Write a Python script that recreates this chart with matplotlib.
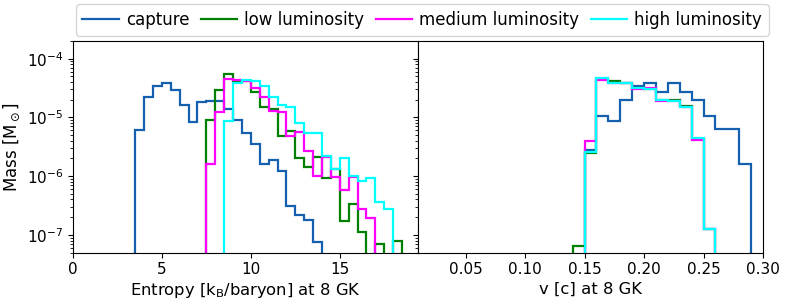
import numpy as np
import matplotlib
matplotlib.use("Agg")
import matplotlib.pyplot as plt
from matplotlib.lines import Line2D

# ---------------- data ----------------
series_names = ["capture", "low luminosity", "medium luminosity", "high luminosity"]
series_colors = ["#1560ae", "green", "magenta", "cyan"]

# entropy bins (kB/baryon), width 0.5, from 3.5 to 19.0
entropy_edges = np.arange(3.5, 19.0 + 1e-9, 0.5)
entropy_capture = [6.2e-6, 2.2e-5, 3.4e-5, 3.8e-5, 2.9e-5, 1.6e-5, 8.2e-6, 1.84e-5,
                   1.9e-5, 1.9e-5, 1.38e-5, 9.2e-6, 5.4e-6, 3.5e-6, 1.58e-6, 1.85e-6,
                   1.22e-6, 3.1e-7, 2.15e-7, 1.76e-7, 7.6e-8, 0, 0, 0,
                   0, 0, 0, 0, 0, 0, 0]
entropy_low = [0, 0, 0, 0, 0, 0, 0, 0,
               9.2e-6, 2.94e-5, 5.5e-5, 4.15e-5, 4.1e-5, 2.72e-5, 1.48e-5, 1.4e-5,
               4.8e-6, 5.9e-6, 2.0e-6, 1.42e-6, 2.15e-6, 9.4e-7, 1.33e-6, 1.72e-7,
               3.3e-7, 1.12e-7, 0, 7.1e-8, 0, 7.9e-8, 0]
entropy_medium = [0, 0, 0, 0, 0, 0, 0, 0,
                  1.62e-6, 1.22e-5, 4.5e-5, 4.4e-5, 4.15e-5, 3.2e-5, 2.2e-5, 1.3e-5,
                  1.22e-5, 4.9e-6, 5.6e-6, 2.7e-6, 1.0e-6, 2.1e-6, 9.6e-7, 5.9e-7,
                  9.6e-7, 2.7e-7, 1.9e-7, 0, 0, 0, 0]
entropy_high = [0, 0, 0, 0, 0, 0, 0, 0,
                0, 0, 8.8e-6, 3.9e-5, 4.3e-5, 4.15e-5, 3.4e-5, 2.2e-5,
                1.6e-5, 1.48e-5, 7.9e-6, 5.4e-6, 5.4e-6, 2.24e-6, 1.33e-6, 2.04e-6,
                1.0e-6, 8.2e-7, 9.2e-7, 3.6e-7, 2.7e-7, 0, 0]

# velocity bins (c), width 0.01, from 0.14 to 0.30
velocity_edges = np.arange(0.14, 0.30 + 1e-9, 0.01)
velocity_capture = [0, 2.8e-6, 1.07e-5, 8.7e-6, 2.0e-5, 3.4e-5, 3.85e-5, 2.75e-5,
                    3.8e-5, 2.75e-5, 2.0e-5, 1.04e-5, 6.4e-6, 6.4e-6, 1.6e-6, 0]
velocity_low = [6.5e-8, 2.45e-6, 4.5e-5, 4.15e-5, 3.8e-5, 3.2e-5, 3.1e-5, 2.0e-5,
                1.97e-5, 1.56e-5, 4.3e-6, 1.26e-7, 0, 0, 0, 0]
velocity_medium = [0, 3.9e-6, 4.4e-5, 3.9e-5, 3.8e-5, 3.05e-5, 3.2e-5, 1.87e-5,
                   1.9e-5, 1.5e-5, 4.2e-6, 1.26e-7, 0, 0, 0, 0]
velocity_high = [0, 2.55e-6, 4.6e-5, 3.9e-5, 3.8e-5, 3.2e-5, 3.1e-5, 2.0e-5,
                 1.93e-5, 1.52e-5, 4.4e-6, 1.26e-7, 0, 0, 0, 0]

entropy_series = [entropy_capture, entropy_low, entropy_medium, entropy_high]
velocity_series = [velocity_capture, velocity_low, velocity_medium, velocity_high]

# ---------------- figure ----------------
plt.rcParams["font.family"] = ["DejaVu Sans"]

fig = plt.figure(figsize=(7.89, 3.05), dpi=100)
L, R, B, T = 73 / 789, 763 / 789, 1 - 252.5 / 305, 1 - 41 / 305
W = (R - L) / 2
ax1 = fig.add_axes([L, B, W, T - B])
ax2 = fig.add_axes([L + W, B, W, T - B], sharey=ax1)

for vals, name, col in zip(entropy_series, series_names, series_colors):
    ax1.hist(entropy_edges[:-1], bins=entropy_edges, weights=vals,
             histtype="step", color=col, linewidth=1.6, label=name)
for vals, name, col in zip(velocity_series, series_names, series_colors):
    ax2.hist(velocity_edges[:-1], bins=velocity_edges, weights=vals,
             histtype="step", color=col, linewidth=1.6, label=name)

ax1.set_yscale("log")
ax1.set_ylim(5e-8, 2e-4)
ax1.set_xlim(0, 19.4)
ax2.set_xlim(0.01, 0.30)
ax1.set_xticks([0, 5, 10, 15])
ax2.set_xticks([0.05, 0.10, 0.15, 0.20, 0.25, 0.30])
ax2.tick_params(labelleft=False)
for ax in (ax1, ax2):
    ax.tick_params(labelsize=11)

ax1.set_xlabel(r"Entropy [k$_\mathrm{B}$/baryon] at 8 GK", fontsize=11.8, labelpad=3)
ax2.set_xlabel("v [c] at 8 GK", fontsize=11.8, labelpad=3)
ax1.set_ylabel(r"Mass [M$_\odot$]", fontsize=12, labelpad=3)

handles = [Line2D([], [], color=c, linewidth=1.6) for c in series_colors]
fig.legend(handles, series_names, loc="center", bbox_to_anchor=(0.535, 1 - 20 / 305),
           ncol=4, fontsize=12, handlelength=2.2, columnspacing=0.7, handletextpad=0.4)

fig.savefig("out.png", dpi=100)
